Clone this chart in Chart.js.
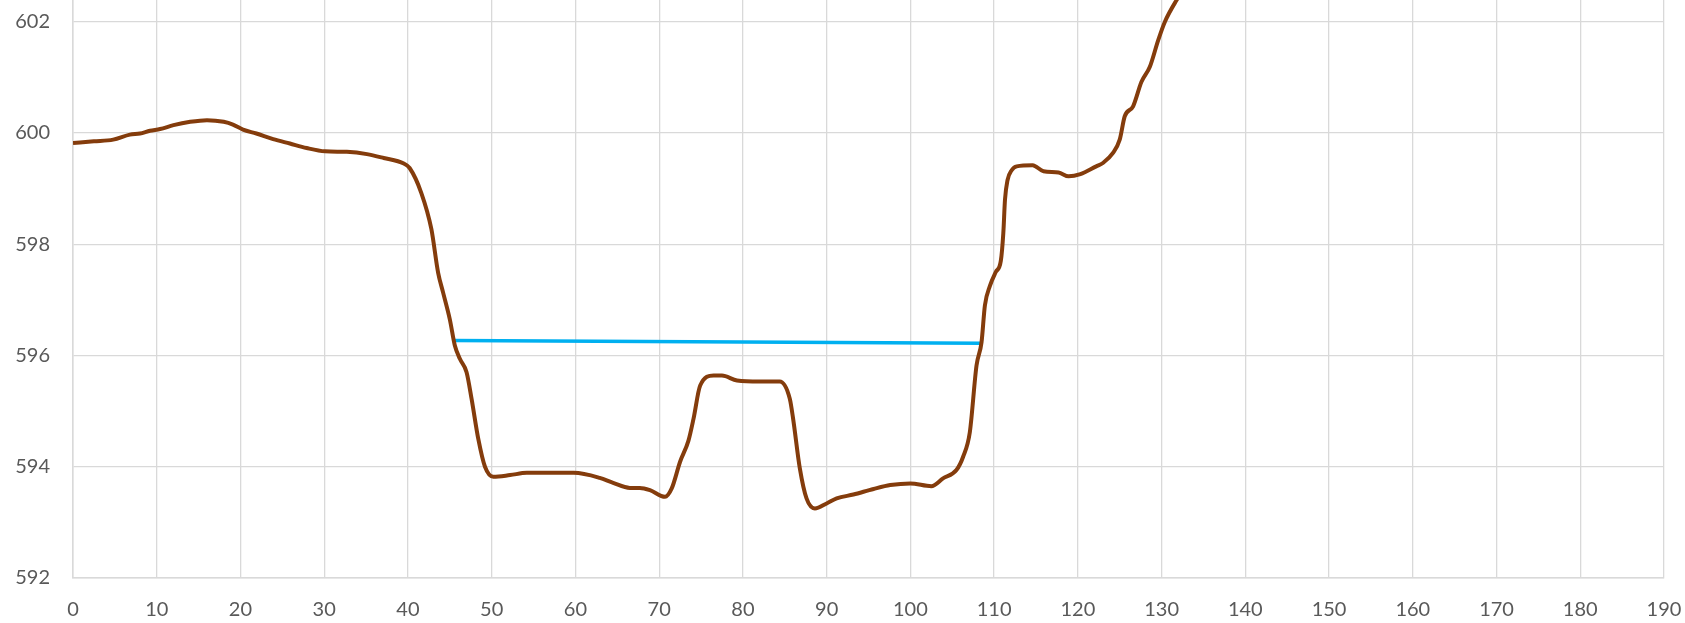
<!DOCTYPE html>
<html lang="en">
<head>
  <meta charset="UTF-8">
  <title>Cross Section</title>
  <script src="https://cdn.jsdelivr.net/npm/chart.js@4"></script>
  <style>
    html, body { margin: 0; padding: 0; background: #fff; }
    #wrap { width: 1685px; height: 623px; position: relative; }
  </style>
</head>
<body>
  <div id="wrap"><canvas id="profileChart"></canvas></div>
  <script>
    // ground profile: station (m) and elevation (m)
    const stations = [0, 2.5, 4.8, 6.8, 8.0, 9.2, 10.4, 12.0, 14.0, 16.0, 18.0, 19.1, 20.3, 21.9, 23.9, 25.9, 27.9, 30.1, 32.7, 35.1,
      37.1, 39.5, 40.2, 41.6, 42.8, 43.6, 44.2, 45.0, 45.6, 46.2, 47.0, 47.6, 48.4, 49.2, 50.2, 52.2, 54.2, 59.8, 62.9, 64.5,
      66.5, 67.7, 68.9, 70.7, 71.5, 72.5, 73.5, 74.1, 74.9, 76.5, 77.5, 79.3, 82.0, 84.4, 85.6, 86.0, 86.8, 87.6, 88.6, 90.0,
      91.2, 93.2, 95.6, 97.6, 100.0, 102.5, 103.9, 105.5, 106.3, 107.1, 107.9, 108.5, 108.9, 109.5, 110.2, 110.8, 111.1, 111.3, 111.6, 112.1,
      112.7, 114.6, 115.9, 117.7, 118.9, 120.3, 122.2, 123.0, 124.2, 125.0, 125.6, 126.6, 127.6, 128.6, 129.6, 130.4, 131.8, 132.5];
    const elevations = [599.82, 599.85, 599.88, 599.97, 599.99, 600.04, 600.07, 600.14, 600.20, 600.23, 600.20, 600.15, 600.06, 599.99, 599.89, 599.81, 599.73, 599.67, 599.66, 599.62,
      599.55, 599.45, 599.37, 598.92, 598.27, 597.49, 597.13, 596.65, 596.18, 595.94, 595.70, 595.22, 594.50, 594.00, 593.82, 593.85, 593.89, 593.89, 593.80, 593.71,
      593.62, 593.62, 593.58, 593.46, 593.61, 594.09, 594.47, 594.86, 595.46, 595.64, 595.64, 595.55, 595.53, 595.53, 595.22, 594.86, 593.97, 593.43, 593.25, 593.34,
      593.43, 593.50, 593.60, 593.67, 593.70, 593.65, 593.79, 593.94, 594.18, 594.62, 595.82, 596.24, 596.90, 597.25, 597.50, 597.70, 598.20, 598.80, 599.15, 599.33,
      599.40, 599.42, 599.31, 599.29, 599.22, 599.26, 599.40, 599.46, 599.64, 599.88, 600.30, 600.48, 600.92, 601.19, 601.67, 602.00, 602.39, 602.55];

    // water surface
    const waterStations = [45.4, 108.5];
    const waterLevels = [596.27, 596.22];

    const xRange = { min: 0, max: 190, step: 10 };
    const yRange = { min: 592, max: 602.39 };
    const yTickValues = [592, 594, 596, 598, 600, 602];

    const toPoints = (xs, ys) => xs.map((x, i) => ({ x: x, y: ys[i] }));

    const tickFont = { family: 'Lato, "Open Sans", sans-serif', size: 20 };
    const gridColor = '#d9d9d9';

    new Chart(document.getElementById('profileChart'), {
      type: 'line',
      data: {
        datasets: [
          {
            label: 'Ground',
            data: toPoints(stations, elevations),
            borderColor: '#843c0c',
            borderWidth: 4,
            pointRadius: 0,
            cubicInterpolationMode: 'monotone',
            fill: false
          },
          {
            label: 'Water surface',
            data: toPoints(waterStations, waterLevels),
            borderColor: '#00b0f0',
            borderWidth: 3.5,
            pointRadius: 0,
            fill: false
          }
        ]
      },
      options: {
        responsive: true,
        maintainAspectRatio: false,
        animation: false,
        layout: { padding: { left: 0, right: 21, top: 0, bottom: 0 } },
        plugins: { legend: { display: false }, tooltip: { enabled: false } },
        scales: {
          x: {
            type: 'linear',
            min: xRange.min,
            max: xRange.max,
            ticks: { stepSize: xRange.step, color: '#595959', font: tickFont, padding: 20, maxRotation: 0 },
            grid: { color: gridColor, lineWidth: 1.3, drawTicks: false },
            border: { color: gridColor, width: 1.5 },
            afterFit: (scale) => { scale.height = 45; scale.paddingLeft = 0; scale.paddingRight = 0; }
          },
          y: {
            type: 'linear',
            min: yRange.min,
            max: yRange.max,
            ticks: { color: '#595959', font: tickFont, padding: 23 },
            grid: { color: gridColor, lineWidth: 1.3, drawTicks: false },
            border: { color: gridColor, width: 1.5 },
            afterBuildTicks: (axis) => { axis.ticks = yTickValues.map(v => ({ value: v })); },
            afterFit: (scale) => { scale.width = 73; scale.paddingTop = 0; scale.paddingBottom = 0; }
          }
        }
      }
    });
  </script>
</body>
</html>
